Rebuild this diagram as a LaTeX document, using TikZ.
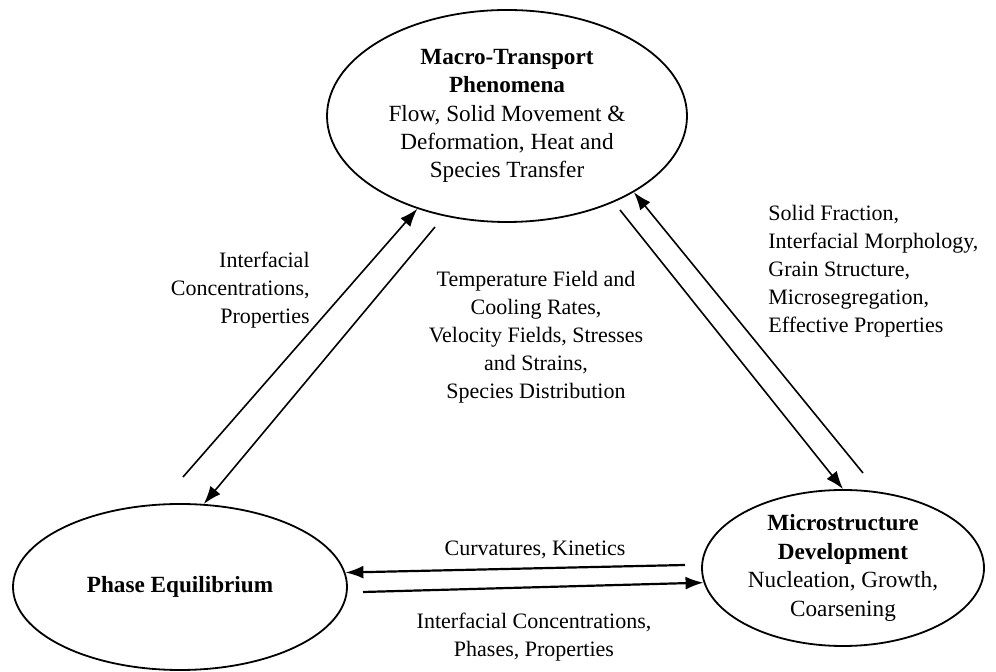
\documentclass[tikz,border=0pt]{standalone}
\usepackage{fontspec}
\setmainfont{Liberation Serif}
\usetikzlibrary{arrows.meta,shapes.geometric}

\begin{document}
\begin{tikzpicture}[x=0.5pt,y=-0.5pt,
  topic/.style={ellipse,draw=black,line width=0.9pt,inner sep=0pt,align=center,font=\fontsize{11.6}{14.2}\selectfont},
  flowlabel/.style={font=\fontsize{11}{14}\selectfont,inner sep=0pt},
  flow/.style={line width=0.8pt,-{Latex[length=9pt,width=6.5pt]}}]
\useasboundingbox (0,0) rectangle (996,672);

% the three topics
\node[topic,minimum width=180pt,minimum height=106pt] (macro) at (507,116) {\textbf{Macro-Transport}\\\textbf{Phenomena}\\Flow, Solid Movement \&\\Deformation, Heat and\\Species Transfer};
\node[topic,minimum width=167pt,minimum height=83pt] (phase) at (180,587) {\textbf{Phase Equilibrium}};
\node[topic,minimum width=141pt,minimum height=78pt] (micro) at (843,568) {\textbf{Microstructure}\\\textbf{Development}\\Nucleation, Growth,\\Coarsening};

% free ends of the arrows
\coordinate (pe-up) at (183,477);
\coordinate (mt-down) at (435,227);
\coordinate (mt-right) at (620,210);
\coordinate (ms-up) at (863,473);
\coordinate (ms-left) at (685,565);
\coordinate (pe-right) at (363,592);

\draw[flow] (pe-up) -- (macro.226);
\draw[flow] (mt-down) -- (phase.74);
\draw[flow] (mt-right) -- (micro.90);
\draw[flow] (ms-up) -- (macro.329);
\draw[flow,line width=1.1pt] (ms-left) -- (phase.5);
\draw[flow,line width=1.1pt] (pe-right) -- (micro.186);

% labels
\node[flowlabel,anchor=east,align=right] (lbl-left) at (310,290) {Interfacial\\Concentrations,\\Properties};
\node[flowlabel,align=center] (lbl-mid) at (536,337) {Temperature Field and\\Cooling Rates,\\Velocity Fields, Stresses\\and Strains,\\Species Distribution};
\node[flowlabel,anchor=west,align=left] (lbl-right) at (768,271) {Solid Fraction,\\Interfacial Morphology,\\Grain Structure,\\Microsegregation,\\Effective Properties};
\node[flowlabel] (lbl-top) at (535,550) {Curvatures, Kinetics};
\node[flowlabel,align=center] (lbl-bottom) at (534,637) {Interfacial Concentrations,\\Phases, Properties};
\end{tikzpicture}
\end{document}
